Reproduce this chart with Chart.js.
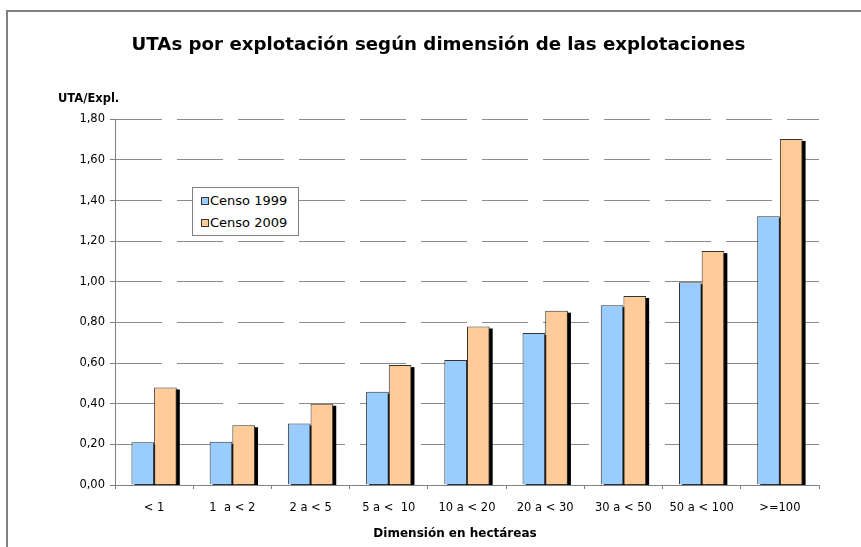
<!DOCTYPE html>
<html>
<head>
<meta charset="utf-8">
<script src="https://cdn.jsdelivr.net/npm/chart.js@4"></script>
<style>
  html, body { margin: 0; padding: 0; background: #fff; overflow: hidden; }
  #marco { position: absolute; left: 6px; top: 10px; width: 1000px; height: 1000px; border: 2px solid #808080; }
  #contenedor { position: absolute; left: 0; top: 0; width: 861px; height: 547px; }
  #leyenda { position: absolute; left: 192px; top: 187px; width: 105px; height: 47px; background: #fff; border: 1px solid #808080;
             font-family: 'DejaVu Sans'; font-size: 13px; color: #000; }
  .item { position: absolute; left: 8px; height: 16px; line-height: 16px; white-space: nowrap; }
  .cuadro { display: inline-block; width: 6px; height: 6px; border: 1px solid #333; margin-right: 1px; vertical-align: 0px; }
</style>
</head>
<body>
<div id="marco"></div>
<div id="contenedor">
  <canvas id="grafico" width="861" height="547"></canvas>
  <div id="leyenda"></div>
</div>
<script>
const categorias = ['< 1', '1  a < 2', '2 a < 5', '5 a <  10', '10 a < 20', '20 a < 30', '30 a < 50', '50 a < 100', '>=100']
const censo1999 = [0.21, 0.213, 0.303, 0.459, 0.615, 0.748, 0.885, 0.998, 1.323]
const censo2009 = [0.48, 0.294, 0.40, 0.59, 0.78, 0.858, 0.93, 1.151, 1.703]
const ticksY = [0, 0.2, 0.4, 0.6, 0.8, 1.0, 1.2, 1.4, 1.6, 1.8]
const tituloX = 'Dimensión en hectáreas'

Chart.defaults.font.family = 'DejaVu Sans'
Chart.defaults.color = '#000'

// sombra negra detras de cada barra (como en excel)
const sombra = {
    id: 'sombra',
    beforeDatasetsDraw(chart) {
        const { ctx, chartArea } = chart
        ctx.save()
        ctx.beginPath()
        ctx.rect(chartArea.left, chartArea.top, chartArea.width, chartArea.height)
        ctx.clip()
        ctx.fillStyle = '#000'
        chart.data.datasets.forEach((ds, i) => {
            chart.getDatasetMeta(i).data.forEach(barra => {
                const p = barra.getProps(['x', 'y', 'base', 'width'], true)
                ctx.fillRect(p.x - p.width / 2 + 3, p.y + 2, p.width, p.base - p.y)
            })
        })
        ctx.restore()
    }
}

// titulo del eje x, un poco corrido a la izquierda como en el original
const tituloEjeX = {
    id: 'tituloEjeX',
    afterDraw(chart) {
        const { ctx, chartArea } = chart
        ctx.save()
        ctx.font = 'bold 12px "DejaVu Sans"'
        ctx.fillStyle = '#000'
        ctx.textAlign = 'center'
        ctx.textBaseline = 'middle'
        ctx.fillText(tituloX, (chartArea.left + chartArea.right) / 2 - 12, chartArea.bottom + 49)
        ctx.restore()
    }
}

const grafico = new Chart(document.getElementById('grafico'), {
    type: 'bar',
    data: {
        labels: categorias,
        datasets: [
            {
                label: 'Censo 1999',
                backgroundColor: '#99CCFF',
                borderColor: '#333333',
                borderWidth: 1,
                data: censo1999
            }, {
                label: 'Censo 2009',
                backgroundColor: '#FFCC99',
                borderColor: '#333333',
                borderWidth: 1,
                data: censo2009
            }
        ]
    },
    options: {
        responsive: false,
        animation: false,
        layout: { padding: { left: 58, right: 42, top: 0, bottom: 0 } },
        datasets: { bar: { categoryPercentage: 0.58, barPercentage: 1 } },
        plugins: {
            legend: { display: false },
            tooltip: { enabled: false },
            title: {
                display: true,
                text: 'UTAs por explotación según dimensión de las explotaciones',
                font: { size: 18.2, weight: 'bold' },
                padding: { top: 34, bottom: 36 }
            },
            subtitle: {
                display: true,
                text: 'UTA/Expl.',
                align: 'start',
                font: { size: 11.5, weight: 'bold' },
                padding: { top: 0, bottom: 13.6 }
            }
        },
        scales: {
            x: {
                grid: { drawOnChartArea: false, color: '#808080', tickLength: 4 },
                border: { color: '#808080' },
                ticks: { font: { size: 11.5 }, padding: 12, maxRotation: 0, autoSkip: false },
                afterFit: (eje) => { eje.height = 62 }
            },
            y: {
                min: 0,
                max: 1.8,
                grid: { color: '#8c8c8c', tickLength: 5, tickColor: '#808080', tickBorderDash: [] },
                border: { color: '#808080', dash: [46, 15] },
                ticks: {
                    font: { size: 11.5 },
                    padding: 5,
                    callback: (v) => v.toFixed(2).replace('.', ',')
                },
                afterBuildTicks: (eje) => { eje.ticks = ticksY.map(v => ({ value: v })) },
                afterFit: (eje) => { eje.width = 57 }
            }
        }
    },
    plugins: [sombra, tituloEjeX]
})

// leyenda en html dentro del area del grafico
const leyenda = document.getElementById('leyenda')
leyenda.innerHTML = grafico.data.datasets.map((ds, i) => `
    <div class="item" style="top:${5 + i * 22}px">
        <span class="cuadro" style="background:${ds.backgroundColor}"></span>${ds.label}
    </div>`).join('')
</script>
</body>
</html>
